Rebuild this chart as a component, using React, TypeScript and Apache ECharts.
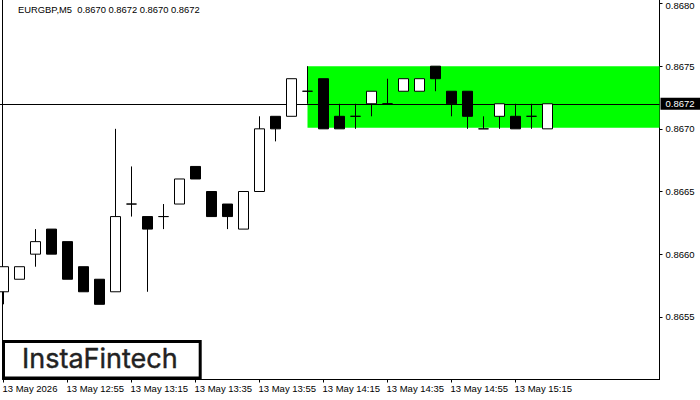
import React, { useEffect, useRef } from "react";
import * as echarts from "echarts";

const times = [
  "13 May 2026", "12:40", "12:45", "12:50", "13 May 12:55", "13:00", "13:05", "13:10",
  "13 May 13:15", "13:20", "13:25", "13:30", "13 May 13:35", "13:40", "13:45", "13:50",
  "13 May 13:55", "14:00", "14:05", "14:10", "13 May 14:15", "14:20", "14:25", "14:30",
  "13 May 14:35", "14:40", "14:45", "14:50", "13 May 14:55", "15:00", "15:05", "15:10",
  "13 May 15:15", "15:20", "15:25", "15:30", "15:35", "15:40", "15:45", "15:50", "15:55", "16:00",
];
const opens = [
  0.8657, 0.8658, 0.866, 0.8662, 0.8661, 0.8659, 0.8658, 0.8657, 0.8664, 0.8663, 0.8663, 0.8664,
  0.8667, 0.8665, 0.8664, 0.8662, 0.8665, 0.8671, 0.8671, 0.8673, 0.8674, 0.8671, 0.8671, 0.8672,
  0.8672, 0.8673, 0.8673, 0.8675, 0.8673, 0.8673, 0.867, 0.8671, 0.8671, 0.8671, 0.867,
];
const closes = [
  0.8659, 0.8659, 0.8661, 0.866, 0.8658, 0.8657, 0.8656, 0.8663, 0.8664, 0.8662, 0.8663, 0.8666,
  0.8666, 0.8663, 0.8663, 0.8665, 0.867, 0.867, 0.8674, 0.8673, 0.867, 0.867, 0.8671, 0.8673,
  0.8672, 0.8674, 0.8674, 0.8674, 0.8672, 0.8671, 0.867, 0.8672, 0.867, 0.8671, 0.8672,
];
const lows = [
  0.8656, 0.8658, 0.8659, 0.866, 0.8658, 0.8657, 0.8656, 0.8657, 0.8663, 0.8657, 0.8662, 0.8664,
  0.8666, 0.8663, 0.8662, 0.8662, 0.8665, 0.8669, 0.8671, 0.8672, 0.867, 0.867, 0.867, 0.8671,
  0.8672, 0.8673, 0.8673, 0.8673, 0.8671, 0.867, 0.867, 0.867, 0.867, 0.867, 0.867,
];
const highs = [
  0.8659, 0.8659, 0.8662, 0.8662, 0.8661, 0.8659, 0.8658, 0.867, 0.8667, 0.8663, 0.8664, 0.8666,
  0.8667, 0.8665, 0.8664, 0.8665, 0.8671, 0.8671, 0.8674, 0.8675, 0.8674, 0.8672, 0.8672, 0.8673,
  0.8674, 0.8674, 0.8674, 0.8675, 0.8673, 0.8673, 0.8671, 0.8672, 0.8672, 0.8672, 0.8672,
];
const yTicks = [0.868, 0.8675, 0.867, 0.8665, 0.866, 0.8655];
const lastPrice = 0.8672;
const topTick = 0.868;
const zoneStartIndex = 19;
const zoneEndIndex = 41;
const zoneTop = 0.8675;
const zoneBottom = 0.867008;
const header = "EURGBP,M5  0.8670 0.8672 0.8670 0.8672";
const logoText = "InstaFintech";
const FONT = "'Liberation Sans', Arial, sans-serif";

export default function App() {
  const ref = useRef<HTMLDivElement>(null);
  useEffect(() => {
    const chart = echarts.init(ref.current!, undefined, { renderer: "svg" });
    const candles = opens.map((o, i) => [o, closes[i], lows[i], highs[i]]);
    const showTick = (i: number) => i % 4 === 0 && i <= 32;
    chart.setOption({
      animation: false,
      backgroundColor: "#fff",
      title: {
        text: header,
        left: 18,
        top: 5,
        padding: 0,
        textStyle: { fontFamily: FONT, fontSize: 9.4, fontWeight: "normal", color: "#000" },
      },
      grid: { left: 3.5, width: 656, top: -1, height: 380.5, show: false, outerBoundsMode: "none" },
      xAxis: {
        type: "category",
        data: times,
        boundaryGap: false,
        axisLine: { show: true, onZero: false, lineStyle: { color: "#000", width: 1 } },
        axisTick: { show: true, length: 3, interval: showTick, lineStyle: { color: "#000" } },
        axisLabel: {
          interval: showTick,
          align: "left",
          margin: 4,
          padding: [0, 0, 0, -1],
          color: "#000",
          fontFamily: FONT,
          fontSize: 9.5,
          formatter: (v: string) => v,
          hideOverlap: false,
        },
        splitLine: { show: false },
      },
      yAxis: [
        {
          type: "value",
          position: "right",
          min: 0.865,
          max: 0.868036,
          scale: true,
          axisLine: { show: true, lineStyle: { color: "#000", width: 1 } },
          axisTick: { show: true, length: 3, customValues: yTicks, lineStyle: { color: "#000" } },
          splitLine: { show: false },
          axisLabel: {
            margin: 1,
            customValues: [...yTicks, lastPrice],
            formatter: (v: number) => {
              const s = v.toFixed(4);
              if (Math.abs(v - lastPrice) < 1e-6) return `{tag|${s}}`;
              if (Math.abs(v - topTick) < 1e-6) return `{top|${s}}`;
              return `{n|${s}}`;
            },
            rich: {
              n: { color: "#000", fontFamily: FONT, fontSize: 9.5, padding: [0, 0, 0, 5] },
              top: { color: "#000", fontFamily: FONT, fontSize: 9.5, padding: [3, 0, 0, 5] },
              tag: {
                color: "#fff",
                backgroundColor: "#000",
                fontFamily: FONT,
                fontSize: 9.5,
                padding: [1, 8, 1, 5],
              },
            },
          },
        },
        {
          type: "value",
          position: "left",
          offset: 1,
          min: 0.865,
          max: 0.868036,
          axisLine: { show: true, lineStyle: { color: "#000", width: 1 } },
          axisTick: { show: false },
          axisLabel: { show: false },
          splitLine: { show: false },
        },
      ],
      series: [
        {
          type: "candlestick",
          z: 5,
          barWidth: 11,
          data: candles,
          clip: false,
          itemStyle: {
            color: "#fff",
            color0: "#000",
            borderColor: "#000",
            borderColor0: "#000",
            borderColorDoji: "#000",
            borderWidth: 1,
          },
          markArea: {
            silent: true,
            z: 1,
            itemStyle: { color: "#00ff00" },
            data: [[{ xAxis: zoneStartIndex, yAxis: zoneTop }, { xAxis: zoneEndIndex, yAxis: zoneBottom }]],
          },
          markLine: {
            silent: true,
            z: 2,
            symbol: "none",
            label: { show: false },
            lineStyle: { color: "#000", width: 1, type: "solid" },
            data: [[{ x: 0, yAxis: lastPrice }, { xAxis: zoneEndIndex, yAxis: lastPrice }]],
          },
        },
      ],
      graphic: [
        {
          type: "rect",
          z: 20,
          shape: { x: 3.5, y: 341.5, width: 196.7, height: 36.5 },
          style: { fill: "#fff", stroke: "#000", lineWidth: 3 },
        },
        {
          type: "text",
          z: 21,
          x: 22,
          y: 344.5,
          style: {
            text: logoText,
            fontFamily: "Inter, sans-serif",
            fontSize: 27,
            fontWeight: 400,
            fill: "#222",
            stroke: "#222",
            lineWidth: 0.4,
          },
        },
      ],
    });
    return () => chart.dispose();
  }, []);
  return (
    <div
      ref={ref}
      style={{ position: "absolute", left: 0, top: 0, width: 700, height: 400, background: "#fff" }}
    />
  );
}
